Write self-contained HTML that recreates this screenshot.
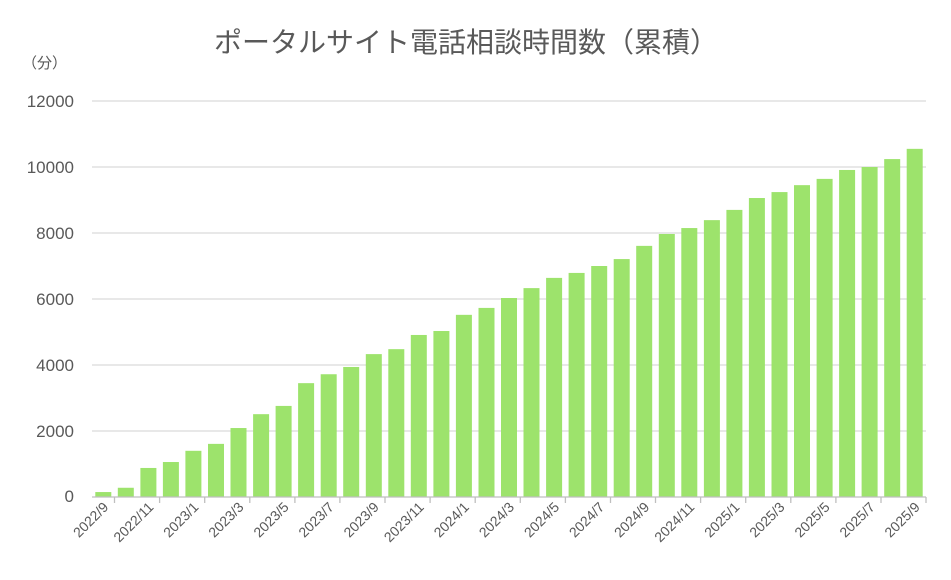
<!DOCTYPE html>
<html><head><meta charset="utf-8"><style>
html,body{margin:0;padding:0;background:#fff;}
svg{display:block;font-family:"Liberation Sans","Noto Sans CJK JP",sans-serif;}
</style></head><body>
<svg width="951" height="580" viewBox="0 0 951 580" xmlns="http://www.w3.org/2000/svg">
<rect width="951" height="580" fill="#fff"/>
<text x="466" y="52" text-anchor="middle" font-size="28" fill="#595959">ポータルサイト電話相談時間数（累積）</text>
<text x="22" y="68" font-size="15" fill="#595959">（分）</text>
<g stroke="#d9d9d9" stroke-width="1.3">
<line x1="92" y1="101" x2="926" y2="101"/>
<line x1="92" y1="167" x2="926" y2="167"/>
<line x1="92" y1="233" x2="926" y2="233"/>
<line x1="92" y1="299" x2="926" y2="299"/>
<line x1="92" y1="365" x2="926" y2="365"/>
<line x1="92" y1="431" x2="926" y2="431"/>
</g>
<g font-size="17" fill="#595959" text-anchor="end">
<text x="74" y="107">12000</text>
<text x="74" y="173">10000</text>
<text x="74" y="239">8000</text>
<text x="74" y="305">6000</text>
<text x="74" y="371">4000</text>
<text x="74" y="437">2000</text>
<text x="74" y="502">0</text>
</g>
<g fill="#9de36c">
<rect x="95.3" y="492.05" width="16" height="4.95"/>
<rect x="117.8" y="487.76" width="16" height="9.24"/>
<rect x="140.4" y="467.96" width="16" height="29.04"/>
<rect x="162.9" y="462.02" width="16" height="34.98"/>
<rect x="185.4" y="450.8" width="16" height="46.2"/>
<rect x="208.0" y="443.87" width="16" height="53.13"/>
<rect x="230.5" y="428.03" width="16" height="68.97"/>
<rect x="253.1" y="414.17" width="16" height="82.83"/>
<rect x="275.6" y="405.92" width="16" height="91.08"/>
<rect x="298.1" y="383.15" width="16" height="113.85"/>
<rect x="320.7" y="374.24" width="16" height="122.76"/>
<rect x="343.2" y="366.98" width="16" height="130.02"/>
<rect x="365.8" y="354.11" width="16" height="142.89"/>
<rect x="388.3" y="349.16" width="16" height="147.84"/>
<rect x="410.8" y="334.97" width="16" height="162.03"/>
<rect x="433.4" y="331.01" width="16" height="165.99"/>
<rect x="455.9" y="314.84" width="16" height="182.16"/>
<rect x="478.5" y="307.91" width="16" height="189.09"/>
<rect x="501.0" y="298.01" width="16" height="198.99"/>
<rect x="523.5" y="288.11" width="16" height="208.89"/>
<rect x="546.1" y="277.88" width="16" height="219.12"/>
<rect x="568.6" y="272.93" width="16" height="224.07"/>
<rect x="591.2" y="266" width="16" height="231"/>
<rect x="613.7" y="259.07" width="16" height="237.93"/>
<rect x="636.2" y="245.87" width="16" height="251.13"/>
<rect x="658.8" y="233.99" width="16" height="263.01"/>
<rect x="681.3" y="228.05" width="16" height="268.95"/>
<rect x="703.9" y="220.13" width="16" height="276.87"/>
<rect x="726.4" y="209.9" width="16" height="287.1"/>
<rect x="748.9" y="198.02" width="16" height="298.98"/>
<rect x="771.5" y="192.08" width="16" height="304.92"/>
<rect x="794.0" y="185.15" width="16" height="311.85"/>
<rect x="816.6" y="178.88" width="16" height="318.12"/>
<rect x="839.1" y="169.97" width="16" height="327.03"/>
<rect x="861.6" y="167" width="16" height="330"/>
<rect x="884.2" y="159.08" width="16" height="337.92"/>
<rect x="906.7" y="148.85" width="16" height="348.15"/>
</g>
<line x1="92" y1="497" x2="926" y2="497" stroke="#bfbfbf" stroke-width="1.3"/>
<g stroke="#bfbfbf" stroke-width="1.3">
<line x1="114.5" y1="497" x2="114.5" y2="503"/>
<line x1="159.6" y1="497" x2="159.6" y2="503"/>
<line x1="204.7" y1="497" x2="204.7" y2="503"/>
<line x1="249.8" y1="497" x2="249.8" y2="503"/>
<line x1="294.9" y1="497" x2="294.9" y2="503"/>
<line x1="339.9" y1="497" x2="339.9" y2="503"/>
<line x1="385.0" y1="497" x2="385.0" y2="503"/>
<line x1="430.1" y1="497" x2="430.1" y2="503"/>
<line x1="475.2" y1="497" x2="475.2" y2="503"/>
<line x1="520.3" y1="497" x2="520.3" y2="503"/>
<line x1="565.4" y1="497" x2="565.4" y2="503"/>
<line x1="610.5" y1="497" x2="610.5" y2="503"/>
<line x1="655.5" y1="497" x2="655.5" y2="503"/>
<line x1="700.6" y1="497" x2="700.6" y2="503"/>
<line x1="745.7" y1="497" x2="745.7" y2="503"/>
<line x1="790.8" y1="497" x2="790.8" y2="503"/>
<line x1="835.9" y1="497" x2="835.9" y2="503"/>
<line x1="881.0" y1="497" x2="881.0" y2="503"/>
<line x1="926" y1="497" x2="926" y2="503"/>
</g>
<g font-size="14" fill="#595959" text-anchor="end">
<text transform="translate(109.3,508) rotate(-45)">2022/9</text>
<text transform="translate(154.4,508) rotate(-45)">2022/11</text>
<text transform="translate(199.4,508) rotate(-45)">2023/1</text>
<text transform="translate(244.5,508) rotate(-45)">2023/3</text>
<text transform="translate(289.6,508) rotate(-45)">2023/5</text>
<text transform="translate(334.7,508) rotate(-45)">2023/7</text>
<text transform="translate(379.8,508) rotate(-45)">2023/9</text>
<text transform="translate(424.8,508) rotate(-45)">2023/11</text>
<text transform="translate(469.9,508) rotate(-45)">2024/1</text>
<text transform="translate(515.0,508) rotate(-45)">2024/3</text>
<text transform="translate(560.1,508) rotate(-45)">2024/5</text>
<text transform="translate(605.2,508) rotate(-45)">2024/7</text>
<text transform="translate(650.3,508) rotate(-45)">2024/9</text>
<text transform="translate(695.3,508) rotate(-45)">2024/11</text>
<text transform="translate(740.4,508) rotate(-45)">2025/1</text>
<text transform="translate(785.5,508) rotate(-45)">2025/3</text>
<text transform="translate(830.6,508) rotate(-45)">2025/5</text>
<text transform="translate(875.7,508) rotate(-45)">2025/7</text>
<text transform="translate(920.7,508) rotate(-45)">2025/9</text>
</g>
</svg>
</body></html>
